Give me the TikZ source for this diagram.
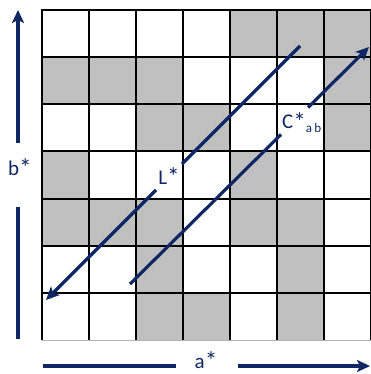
\documentclass[tikz,border=0pt]{standalone}
\usepackage{fontspec}
\setmainfont{Carlito}
\usetikzlibrary{arrows.meta}
\definecolor{navy}{RGB}{15,40,100}
\definecolor{cellgray}{RGB}{192,192,192}
\newcommand{\bigast}{\raisebox{-1.4pt}{\scalebox{1.2}{*}}}
\begin{document}
\begin{tikzpicture}[x=1pt,y=-1pt,
  gridline/.style={black,line width=1.9pt},
  seg/.style={navy,line width=3.2pt},
  arr/.style={navy,line width=3.2pt,-{Stealth[length=13pt,width=12pt,inset=3pt]}},
  lab/.style={text=navy,font=\fontsize{21}{21}\selectfont,inner sep=0pt}]
\useasboundingbox (0,0) rectangle (370,374);
% gray cells
\foreach \r/\cols in {0/{4,5,6},1/{0,1,2,6},2/{2,3,6},3/{0,4},4/{0,1,2,4,5},5/{2,5},6/{2,3,5}}
  \foreach \c in \cols
    \fill[cellgray] (42+47*\c,10+47.14*\r) rectangle ++(47,47.14);
% grid
\foreach \i in {0,...,7}
  \draw[gridline] (42+47*\i,10) -- (42+47*\i,340);
\foreach \j in {0,...,6}
  \draw[gridline] (41,10+47.14*\j) -- (371,10+47.14*\j);
\draw[gray!60,line width=0.5pt] (42,340) -- (371,340);
% labels
\node[lab,anchor=base] (Llab) at (169,184) {L\bigast};
\node[lab,anchor=base west] (Clab) at (282,129) {C\bigast\raisebox{-3pt}{\fontsize{13}{13}\selectfont a\,b}};
\node[lab,anchor=base] (blab) at (20,175) {b\bigast};
\node[lab,anchor=base] (alab) at (206,368) {a\bigast};
% L* line
\coordinate (Ls) at (300,46);
\coordinate (Lg1) at (182,164);
\coordinate (Lg2) at (156,190);
\coordinate (Le) at (46,300);
\draw[seg] (Ls) -- (Lg1);
\draw[arr] (Lg2) -- (Le);
% C*ab line
\coordinate (Cs) at (130,284);
\coordinate (Cg1) at (281,134.5);
\coordinate (Cg2) at (308,107.5);
\coordinate (Ce) at (369,47);
\draw[seg] (Cs) -- (Cg1);
\draw[arr] (Cg2) -- (Ce);
% b* axis
\coordinate (bs) at (18,339);
\coordinate (bg1) at (18,207);
\coordinate (bg2) at (18,143);
\coordinate (be) at (18,10);
\draw[seg] (bs) -- (bg1);
\draw[arr] (bg2) -- (be);
% a* axis
\coordinate (as) at (43,366);
\coordinate (ag1) at (176,366);
\coordinate (ag2) at (238,366);
\coordinate (ae) at (370,366);
\draw[seg] (as) -- (ag1);
\draw[arr] (ag2) -- (ae);
\end{tikzpicture}
\end{document}
